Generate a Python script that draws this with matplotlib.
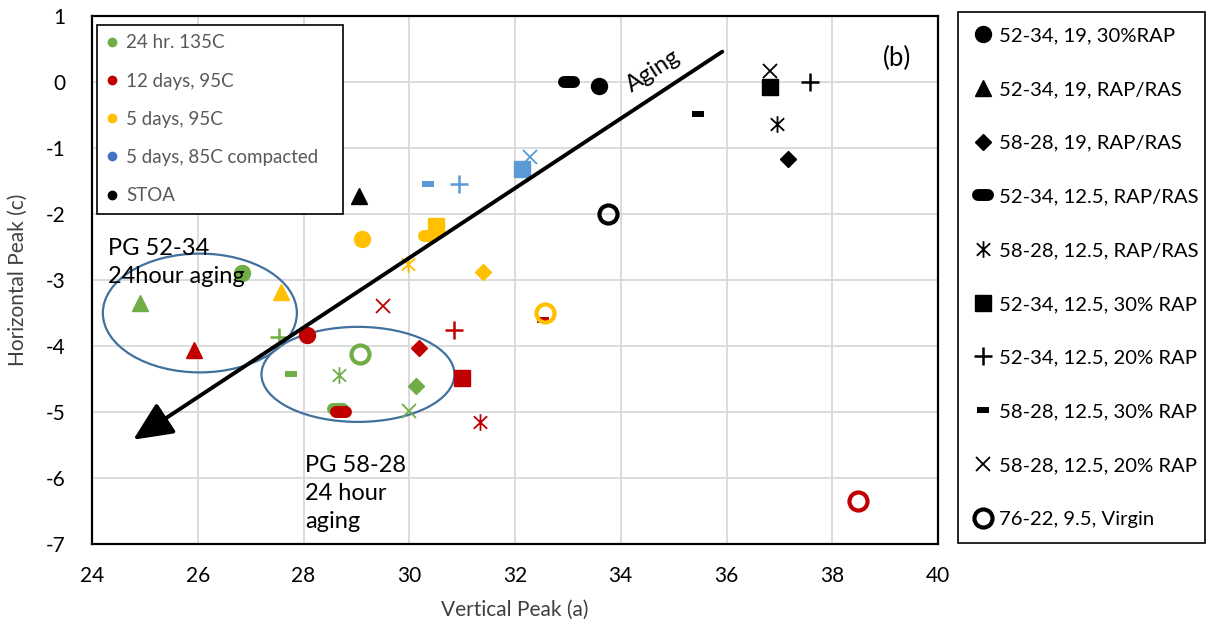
import numpy as np
import matplotlib
matplotlib.use('Agg')
import matplotlib.pyplot as plt
from matplotlib.markers import MarkerStyle
from matplotlib.path import Path
from matplotlib.patches import Ellipse
from matplotlib.lines import Line2D

plt.rcParams['font.family'] = ['Lato', 'DejaVu Sans']
plt.rcParams['axes.unicode_minus'] = False

# mix designs (marker shape) and aging conditions (colour)
mixes = ['52-34, 19, 30%RAP', '52-34, 19, RAP/RAS', '58-28, 19, RAP/RAS',
         '52-34, 12.5, RAP/RAS', '58-28, 12.5, RAP/RAS', '52-34, 12.5, 30% RAP',
         '52-34, 12.5, 20% RAP', '58-28, 12.5, 30% RAP', '58-28, 12.5, 20% RAP',
         '76-22, 9.5, Virgin']
conditions = ['24 hr. 135C', '12 days, 95C', '5 days, 95C',
              '5 days, 85C compacted', 'STOA']
cond_colors = ['#70AD47', '#C00000', '#FFC000', '#5B9BD5', '#000000']
legend_dot_colors = ['#70AD47', '#C00000', '#FFC000', '#4472C4', '#000000']

# 24 hr. 135C
green_mix = [0, 1, 2, 3, 4, 6, 7, 8, 9]
green_x = [26.83, 24.91, 30.12, 28.66, 28.68, 27.54, 27.77, 30.00, 29.07]
green_y = [-2.90, -3.35, -4.60, -4.96, -4.44, -3.86, -4.42, -4.98, -4.12]

# 12 days, 95C
red_mix = [0, 1, 2, 3, 4, 5, 6, 7, 8, 9]
red_x = [28.06, 25.92, 30.19, 28.70, 31.33, 31.00, 30.84, 32.53, 29.51, 38.48]
red_y = [-3.83, -4.06, -4.03, -5.00, -5.15, -4.48, -3.75, -3.60, -3.40, -6.35]

# 5 days, 95C
yellow_mix = [0, 1, 2, 3, 4, 5, 6, 9]
yellow_x = [29.10, 27.57, 31.40, 30.38, 29.98, 30.50, 30.48, 32.56]
yellow_y = [-2.38, -3.18, -2.88, -2.34, -2.75, -2.18, -2.29, -3.50]

# 5 days, 85C compacted
blue_mix = [5, 6, 7, 8]
blue_x = [32.14, 30.95, 30.36, 32.29]
blue_y = [-1.32, -1.55, -1.55, -1.13]

# STOA
black_mix = [0, 1, 2, 3, 4, 5, 6, 7, 8, 9]
black_x = [33.59, 29.05, 37.16, 33.02, 36.96, 36.82, 37.58, 35.47, 36.83, 33.75]
black_y = [-0.06, -1.72, -1.16, 0.00, -0.63, -0.08, 0.00, -0.49, 0.17, -2.00]

cond_x = [green_x, red_x, yellow_x, blue_x, black_x]
cond_y = [green_y, red_y, yellow_y, blue_y, black_y]
cond_mix = [green_mix, red_mix, yellow_mix, blue_mix, black_mix]

# asterisk: vertical bar plus an x
star_path = Path([(0, -1), (0, 1), (-0.8, -0.75), (0.8, 0.75), (-0.8, 0.75), (0.8, -0.75)],
                 [Path.MOVETO, Path.LINETO, Path.MOVETO, Path.LINETO, Path.MOVETO, Path.LINETO])


def marker_style(i, color):
    """line2D keyword args for mix i"""
    base = dict(linestyle='none', color=color, markeredgecolor=color)
    if i == 0:
        base.update(marker='o', markersize=11.5)
    elif i == 1:
        base.update(marker='^', markersize=12)
    elif i == 2:
        base.update(marker='D', markersize=8.5)
    elif i == 3:
        base.update(marker=MarkerStyle('_', capstyle='round'), markersize=7.2, markeredgewidth=8.6)
    elif i == 4:
        base.update(marker=star_path, markersize=12, markeredgewidth=1.3, markerfacecolor='none')
    elif i == 5:
        base.update(marker='s', markersize=11)
    elif i == 6:
        base.update(marker='+', markersize=13, markeredgewidth=1.8)
    elif i == 7:
        base.update(marker='_', markersize=8.6, markeredgewidth=4.3)
    elif i == 8:
        base.update(marker='x', markersize=10, markeredgewidth=1.3)
    else:
        base.update(marker='o', markersize=13, markeredgewidth=3.0, markerfacecolor='none')
    return base


fig = plt.figure(figsize=(12.07, 6.29), dpi=100)
ax = fig.add_axes([92 / 1207, 1 - 544 / 629, 846 / 1207, 528 / 629])

# ellipses round the two binder grades
ax.add_patch(Ellipse((26.04, -3.50), 3.67, 1.80, fill=False, edgecolor='#41719C', lw=1.6, zorder=2))
ax.add_patch(Ellipse((29.03, -4.43), 3.65, 1.44, fill=False, edgecolor='#41719C', lw=1.6, zorder=2))

for c in range(len(conditions)):
    for xi, yi, mi in zip(cond_x[c], cond_y[c], cond_mix[c]):
        ax.plot([xi], [yi], zorder=3, **marker_style(mi, cond_colors[c]))

# aging arrow
ax.annotate('', xy=(24.78, -5.42), xytext=(35.92, 0.46),
            arrowprops=dict(arrowstyle='-|>,head_length=1.2,head_width=0.55', mutation_scale=20,
                            lw=2.8, color='black', shrinkA=0, shrinkB=0), zorder=4)
ax.text(34.62, 0.16, 'Aging', rotation=33, fontsize=17, ha='center', va='center', zorder=5)
ax.text(39.22, 0.35, '(b)', fontsize=18.5, ha='center', va='center')
ax.text(24.3, -2.36, 'PG 52-34\n24hour aging', fontsize=17, ha='left', va='top',
        linespacing=1.4, zorder=5)
ax.text(28.03, -5.65, 'PG 58-28\n24 hour\naging', fontsize=17, ha='left', va='top',
        linespacing=1.4, zorder=5)

ax.set_xlim(24, 40)
ax.set_ylim(-7, 1)
ax.set_xticks(np.arange(24, 41, 2))
ax.set_yticks(np.arange(-7, 2, 1))
ax.grid(True, color='#D9D9D9', lw=1.3, zorder=0)
ax.set_axisbelow(True)
ax.tick_params(axis='x', length=0, labelsize=15, pad=16)
ax.tick_params(axis='y', length=0, labelsize=15, pad=19)
for s in ax.spines.values():
    s.set_linewidth(1.6)
    s.set_color('black')
ax.set_xlabel('Vertical Peak (a)', fontsize=15, color='#404040', labelpad=10)
ax.set_ylabel('Horizontal Peak (c)', fontsize=15, color='#404040')
ax.yaxis.set_label_coords(-64 / 846, 0.5)

# legend for aging condition (colours)
cond_handles = [Line2D([], [], linestyle='none', marker='o', markersize=6, color=col)
                for col in legend_dot_colors]
leg1 = ax.legend(cond_handles, conditions, loc='upper left',
                 bbox_to_anchor=(5 / 846, 519 / 528, 246 / 846, 0), mode='expand',
                 fontsize=13.5, labelspacing=1.13, handlelength=0.6, handletextpad=0.45,
                 borderpad=0.5, fancybox=False, framealpha=1, edgecolor='black',
                 labelcolor='#595959', borderaxespad=0)
leg1.get_frame().set_linewidth(1.2)

# legend for mix design (shapes)
mix_handles = [Line2D([], [], **marker_style(i, 'black')) for i in range(len(mixes))]
leg2 = fig.legend(mix_handles, mixes, loc='upper left',
                  bbox_to_anchor=(958 / 1207, 1 - 12 / 629, 247 / 1207, 0), mode='expand',
                  fontsize=14.6, labelspacing=1.8, handlelength=1.0, handletextpad=0.25,
                  borderpad=0.75, fancybox=False, framealpha=1, edgecolor='black', borderaxespad=0)
leg2.get_frame().set_linewidth(1.2)

fig.savefig('out.png', dpi=100)
